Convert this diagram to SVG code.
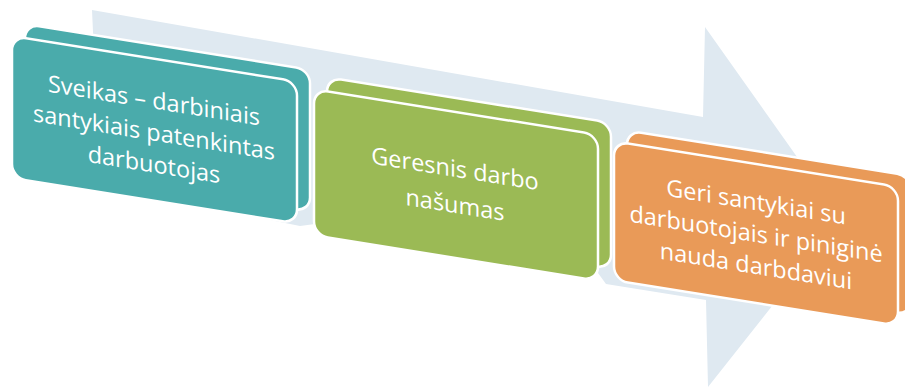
<svg xmlns="http://www.w3.org/2000/svg" width="905" height="388" viewBox="0 0 905 388">
  <style>
    .box { stroke: #ffffff; stroke-width: 2.5; }
    .teal { fill: #4aabab; }
    .green { fill: #9bba55; }
    .orange { fill: #e99a58; }
    .lbl { font-family: "Open Sans", "Noto Sans", "DejaVu Sans", sans-serif; font-size: 23.5px; fill: #ffffff; text-anchor: middle; }
  </style>
  <rect width="905" height="388" fill="#ffffff"/>
  <g id="arrow">
    <polygon points="92,10 703,117 705,27 841,219 708,387 706,300 606,284 590,262 330,222 300,226 100,186" fill="#dfe9f1"/>
  </g>
  <g id="node1" transform="skewY(9.1)">
    <rect class="box teal" x="25" y="20" width="285" height="142" rx="14"/>
    <rect class="box teal" x="12" y="34" width="285" height="142" rx="14"/>
    <text class="lbl" x="154" y="84">Sveikas – darbiniais</text>
    <text class="lbl" x="154" y="116">santykiais patenkintas</text>
    <text class="lbl" x="154" y="148">darbuotojas</text>
  </g>
  <g id="node2" transform="skewY(9.1)">
    <rect class="box green" x="327" y="25" width="284" height="146" rx="14"/>
    <rect class="box green" x="314" y="39" width="284" height="146" rx="14"/>
    <text class="lbl" x="455" y="104">Geresnis darbo</text>
    <text class="lbl" x="455" y="140">našumas</text>
  </g>
  <g id="node3" transform="skewY(9.1)">
    <rect class="box orange" x="627" y="30" width="284" height="139" rx="14"/>
    <rect class="box orange" x="614" y="43" width="284" height="139" rx="14"/>
    <text class="lbl" x="756" y="89">Geri santykiai su</text>
    <text class="lbl" x="756" y="121">darbuotojais ir piniginė</text>
    <text class="lbl" x="756" y="153">nauda darbdaviui</text>
  </g>
</svg>
